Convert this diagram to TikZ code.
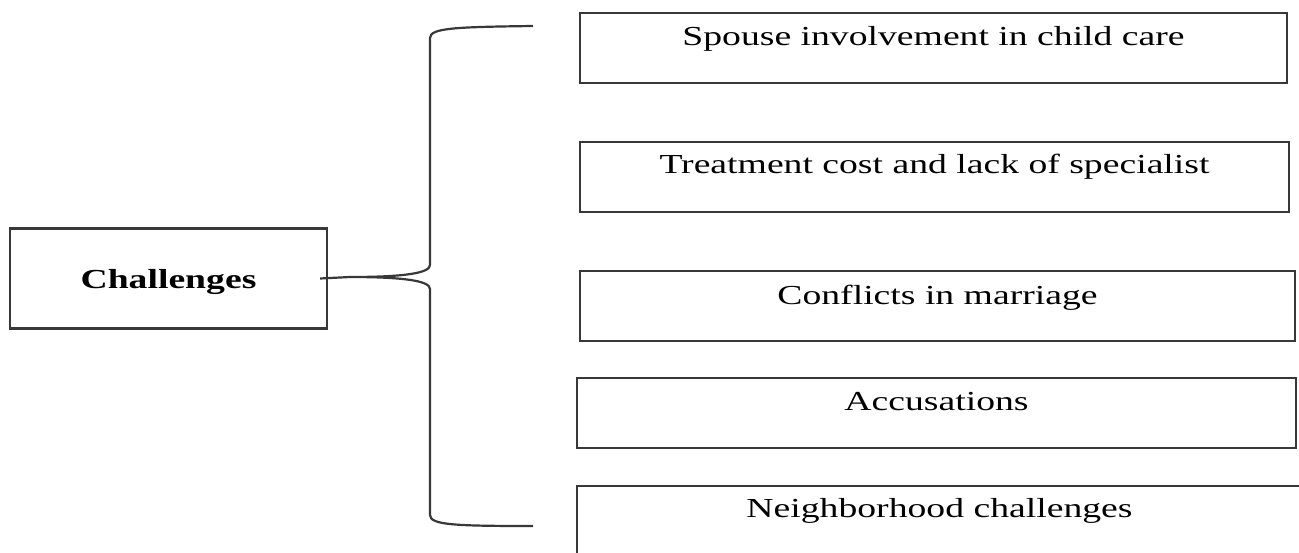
\documentclass[tikz,border=0pt]{standalone}
\usepackage{fontspec}
\setmainfont{Liberation Serif}
\usepackage{graphicx}
\newcommand\sxt[1]{\scalebox{1.37}[1]{#1}}
\tikzset{
  box/.style={draw=black!78, line width=2.2pt, rectangle, inner sep=0pt, minimum height=70pt},
  lbl/.style={anchor=base, inner sep=0pt, font=\fontsize{27.5}{30}\selectfont},
  link/.style={draw=black!78, line width=2.2pt},
}
\begin{document}
\begin{tikzpicture}[x=1pt,y=-1pt]
\useasboundingbox (0,0) rectangle (1299,552);
\clip (0,0) rectangle (1299,552);
\fill[white] (0,0) rectangle (1299,552);
% left box
\node[box, minimum width=317pt, minimum height=100pt] (ch) at (168.5,278.5) {};
\node[lbl, font=\fontsize{27.5}{30}\selectfont\bfseries] (cht) at ([yshift=-61pt]ch.north) {\sxt{Challenges}};
% right boxes
\node[box, minimum width=707pt] (b1) at (933.5,48) {};
\node[box, minimum width=709pt] (b2) at (934.5,177) {};
\node[box, minimum width=715pt] (b3) at (937.5,306) {};
\node[box, minimum width=719pt] (b4) at (936.5,413) {};
\node[box, minimum width=725pt] (b5) at (939.5,521) {};
\node[lbl] (t1) at ([yshift=-34pt]b1.north) {\sxt{Spouse involvement in child care}};
\node[lbl] (t2) at ([yshift=-33pt]b2.north) {\sxt{Treatment cost and lack of specialist}};
\node[lbl] (t3) at ([yshift=-35pt]b3.north) {\sxt{Conflicts in marriage}};
\node[lbl] (t4) at ([yshift=-34pt]b4.north) {\sxt{Accusations}};
\node[lbl] (t5) at ([yshift=-33pt]b5.north) {\sxt{Neighborhood challenges}};
% brace
\coordinate (tip) at (350,277);
\coordinate (top) at (533,26);
\coordinate (bot) at (533,526);
\draw[link] (top) .. controls (455,27) and (430,28) .. (430,38) -- (430,265)
  .. controls (430,273) and (405,277) .. (tip)
  .. controls (405,277) and (430,281) .. (430,289) -- (430,515)
  .. controls (430,525) and (455,526) .. (bot);
\draw[link] ([xshift=-8pt]ch.east) -- (tip);
\end{tikzpicture}
\end{document}
